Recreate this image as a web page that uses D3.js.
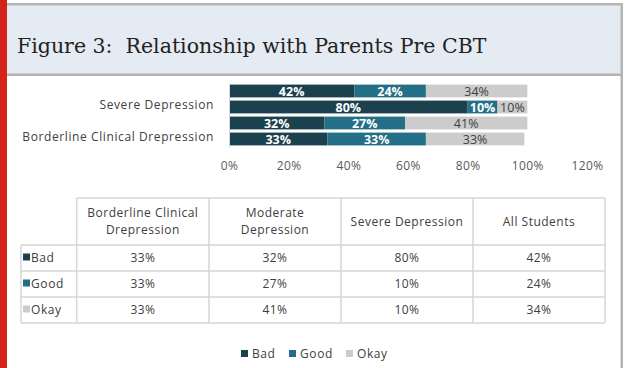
<!DOCTYPE html>
<html>
<head>
<meta charset="utf-8">
<script src="https://cdnjs.cloudflare.com/ajax/libs/d3/7.8.5/d3.min.js"></script>
<style>
  body { margin: 0; background: #fff; }
  svg text { font-family: "Open Sans", sans-serif; }
</style>
</head>
<body>
<div id="chart"></div>
<script>
// data
var categories = ["Borderline Clinical Drepression", "Moderate Depression", "Severe Depression", "All Students"];
var tableHeaders = [["Borderline Clinical", "Drepression"], ["Moderate", "Depression"], ["Severe Depression"], ["All Students"]];
var seriesNames = ["Bad", "Good", "Okay"];
var bad = [0.33, 0.32, 0.80, 0.42];
var good = [0.33, 0.27, 0.10, 0.24];
var okay = [0.33, 0.41, 0.10, 0.34];
var xTicks = [0, 0.2, 0.4, 0.6, 0.8, 1.0, 1.2];
var shownLabels = ["Severe Depression", "Borderline Clinical Drepression"];

var colors = { Bad: "#1b404e", Good: "#236f87", Okay: "#cccccc" };
var values = { Bad: bad, Good: good, Okay: okay };

var svgWidth = 627;
var svgHeight = 368;

var svg = d3.select("#chart")
  .append("svg")
  .attr("width", svgWidth)
  .attr("height", svgHeight);

// page frame: red side strip, header box, right rule
svg.append("rect").attr("x", 0).attr("y", 0).attr("width", svgWidth).attr("height", svgHeight).attr("fill", "#fff");
svg.append("rect").attr("x", 7).attr("y", 5).attr("width", 615).attr("height", 70).attr("fill", "#e4ebf2");
svg.append("rect").attr("x", 7).attr("y", 3).attr("width", 616).attr("height", 2.5).attr("fill", "#b4b4b4");
svg.append("rect").attr("x", 7).attr("y", 73.5).attr("width", 616).attr("height", 2.5).attr("fill", "#b4b4b4");
svg.append("rect").attr("x", 620.5).attr("y", 3).attr("width", 2.5).attr("height", svgHeight).attr("fill", "#b4b4b4");
svg.append("rect").attr("x", 0).attr("y", 0).attr("width", 7).attr("height", svgHeight).attr("fill", "#d3231a");

svg.append("text")
  .attr("x", 17)
  .attr("y", 53)
  .style("font-family", "'DejaVu Serif', serif")
  .style("font-size", "20.5px")
  .style("white-space", "pre")
  .attr("fill", "#222")
  .text("Figure 3:  Relationship with Parents Pre CBT");

// scales
var xScale = d3.scaleLinear()
  .domain([0, 1.2])
  .range([229, 587]);

var yScale = d3.scaleBand()
  .domain(categories.slice().reverse())
  .range([83, 147])
  .paddingInner(0.2)
  .paddingOuter(0.1);

// stack the three series
var rows = categories.map(function (c, i) {
  return { cat: c, Bad: bad[i], Good: good[i], Okay: okay[i] };
});
var stacked = d3.stack().keys(seriesNames)(rows);

var chartGroup = svg.append("g");

stacked.forEach(function (layer) {
  var key = layer.key;
  var g = chartGroup.append("g");
  g.selectAll("rect")
    .data(layer)
    .enter()
    .append("rect")
    .attr("x", d => xScale(d[0]))
    .attr("y", d => yScale(d.data.cat))
    .attr("width", d => xScale(d[1]) - xScale(d[0]))
    .attr("height", yScale.bandwidth())
    .attr("fill", colors[key]);

  g.selectAll("text")
    .data(layer)
    .enter()
    .append("text")
    .attr("x", d => (xScale(d[0]) + xScale(d[1])) / 2)
    .attr("y", d => yScale(d.data.cat) + yScale.bandwidth() / 2)
    .attr("dy", "0.36em")
    .attr("text-anchor", "middle")
    .style("font-size", "12.5px")
    .style("font-weight", key === "Okay" ? "normal" : "bold")
    .attr("fill", key === "Okay" ? "#404040" : "#fff")
    .text(d => Math.round((d[1] - d[0]) * 100) + "%");
});

// left axis (only every other label, like the original)
var leftAxis = d3.axisLeft(yScale)
  .tickValues(shownLabels)
  .tickSize(0)
  .tickPadding(15);
var yAxisG = chartGroup.append("g")
  .attr("transform", "translate(229,0)")
  .call(leftAxis);
yAxisG.select(".domain").attr("stroke", "#d9d9d9");
yAxisG.selectAll("text")
  .attr("dy", "0.18em")
  .style("font-size", "12px")
  .style("letter-spacing", "0.6px")
  .attr("fill", "#404040");

// bottom axis labels, no line
var bottomAxis = d3.axisBottom(xScale)
  .tickValues(xTicks)
  .tickSize(0)
  .tickPadding(0)
  .tickFormat(d => Math.round(d * 100) + "%");
var xAxisG = chartGroup.append("g")
  .attr("transform", "translate(0,161)")
  .call(bottomAxis);
xAxisG.select(".domain").remove();
xAxisG.selectAll("text")
  .style("font-size", "12px")
  .style("letter-spacing", "0.4px")
  .attr("fill", "#595959");

// data table
var colX = [76.7, 209, 341, 473, 605];
var rowY = [198, 245, 271, 297, 323];
var tableLeft = 21;
var table = svg.append("g");
var line = "#d6d6d6";

// horizontal lines
rowY.forEach(function (y, i) {
  table.append("line")
    .attr("x1", i === 0 ? colX[0] : tableLeft)
    .attr("x2", colX[colX.length - 1])
    .attr("y1", y).attr("y2", y)
    .attr("stroke", line).attr("stroke-width", 1.5);
});
// vertical lines
colX.forEach(function (x) {
  table.append("line")
    .attr("x1", x).attr("x2", x)
    .attr("y1", rowY[0]).attr("y2", rowY[rowY.length - 1])
    .attr("stroke", line).attr("stroke-width", 1.5);
});
table.append("line")
  .attr("x1", tableLeft).attr("x2", tableLeft)
  .attr("y1", rowY[1]).attr("y2", rowY[rowY.length - 1])
  .attr("stroke", line).attr("stroke-width", 1.5);

// header cells
tableHeaders.forEach(function (lines, i) {
  var cx = (colX[i] + colX[i + 1]) / 2;
  var cy = (rowY[0] + rowY[1]) / 2;
  var t = table.append("text")
    .attr("text-anchor", "middle")
    .style("font-size", "12px")
    .style("letter-spacing", "0.5px")
    .attr("fill", "#404040");
  lines.forEach(function (s, j) {
    t.append("tspan")
      .attr("x", cx)
      .attr("y", cy + (j - (lines.length - 1) / 2) * 17)
      .attr("dy", "0.36em")
      .text(s);
  });
});

// body rows
seriesNames.forEach(function (name, r) {
  var cy = (rowY[r + 1] + rowY[r + 2]) / 2;
  table.append("rect")
    .attr("x", 23).attr("y", cy - 4.5)
    .attr("width", 7).attr("height", 7)
    .attr("fill", colors[name]);
  table.append("text")
    .attr("x", 31).attr("y", cy)
    .attr("dy", "0.3em")
    .style("font-size", "12px")
    .style("letter-spacing", "0.6px")
    .attr("fill", "#404040")
    .text(name);
  values[name].forEach(function (v, i) {
    table.append("text")
      .attr("x", (colX[i] + colX[i + 1]) / 2)
      .attr("y", cy)
      .attr("dy", "0.36em")
      .attr("text-anchor", "middle")
      .style("font-size", "12px")
      .style("letter-spacing", "0.4px")
      .attr("fill", "#404040")
      .text(Math.round(v * 100) + "%");
  });
});

// legend at the bottom
var legend = svg.append("g").attr("transform", "translate(241,354)");
var lx = [0, 48, 105];
seriesNames.forEach(function (name, i) {
  legend.append("rect")
    .attr("x", lx[i]).attr("y", -4)
    .attr("width", 7).attr("height", 7)
    .attr("fill", colors[name]);
  legend.append("text")
    .attr("x", lx[i] + 11).attr("y", 0)
    .attr("dy", "0.36em")
    .style("font-size", "12px")
    .style("letter-spacing", "0.6px")
    .attr("fill", "#404040")
    .text(name);
});
</script>
</body>
</html>
